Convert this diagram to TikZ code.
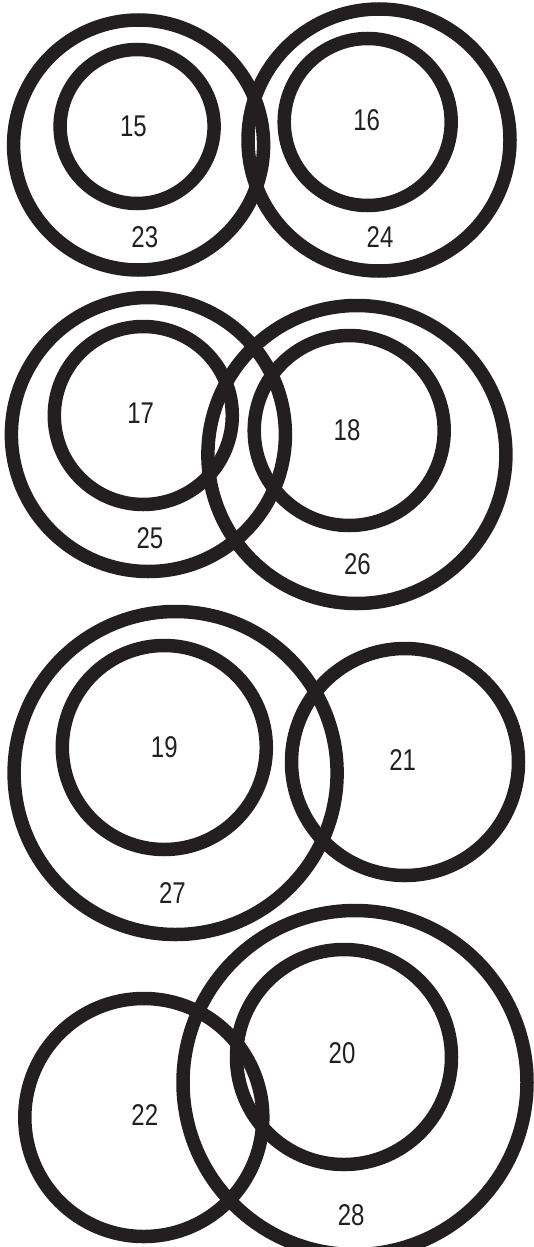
\documentclass[tikz,border=0pt]{standalone}
\usepackage{fontspec}
\newfontfamily\lblfont[FakeStretch=0.8]{Liberation Sans}
\definecolor{ink}{HTML}{231F20}
\tikzset{
  ring/.style={draw=ink, line width=13.5pt},
  lbl/.style={font=\lblfont\fontsize{30}{31}\selectfont, text=ink, inner sep=0pt}
}
\begin{document}
\begin{tikzpicture}[x=1pt,y=-1pt]
\useasboundingbox (0,0) rectangle (534,1247);
% group 1
\draw[ring] (138.6,145) circle (125);
\draw[ring] (137.1,126.5) circle (77);
\draw[ring] (379,140) circle (131);
\draw[ring] (367.7,122) circle (83.5);
\node[lbl] (n15) at (133.5,126) {15};
\node[lbl] (n16) at (366.6,120) {16};
\node[lbl] (n23) at (144.8,237) {23};
\node[lbl] (n24) at (380,237) {24};
% group 2
\draw[ring] (148.4,434.5) circle (137);
\draw[ring] (143.3,415.5) circle (89);
\draw[ring] (356.9,454.5) circle (149);
\draw[ring] (349.2,430.5) circle (95);
\node[lbl] (n17) at (140.7,413) {17};
\node[lbl] (n18) at (347,430) {18};
\node[lbl] (n25) at (150,538) {25};
\node[lbl] (n26) at (357.4,564) {26};
% group 3
\draw[ring] (175.6,773) circle (161.5);
\draw[ring] (164.3,747.5) circle (102);
\draw[ring] (405,762) circle (113.5);
\node[lbl] (n19) at (164.3,747) {19};
\node[lbl] (n21) at (402.6,760) {21};
\node[lbl] (n27) at (172.5,893) {27};
% group 4
\draw[ring] (143.8,1117.5) circle (119);
\draw[ring] (355,1082.5) circle (172);
\draw[ring] (344,1057) circle (107.5);
\node[lbl] (n20) at (342,1053) {20};
\node[lbl] (n22) at (144.8,1115) {22};
\node[lbl] (n28) at (351.2,1215) {28};
\end{tikzpicture}
\end{document}
